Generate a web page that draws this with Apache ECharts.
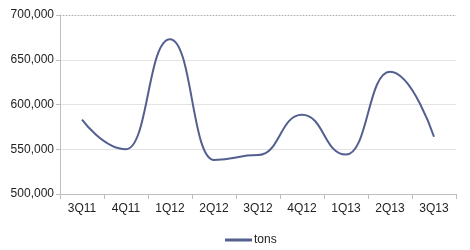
<!DOCTYPE html>
<html><head><meta charset="utf-8">
<script src="https://cdn.jsdelivr.net/npm/echarts@6/dist/echarts.min.js"></script>
<style>html,body{margin:0;padding:0;background:#fff}#c{width:470px;height:250px}</style>
</head><body><div id="c"></div>
<script>
var categories = ['3Q11','4Q11','1Q12','2Q12','3Q12','4Q12','1Q13','2Q13','3Q13'];
var tons = [583000, 550000, 673000, 538000, 543500, 588500, 544000, 636500, 564000];
var seriesName = 'tons';

var chart = echarts.init(document.getElementById('c'), null, {renderer:'canvas'});
chart.setOption({
  animation: false,
  textStyle: {fontFamily: 'Liberation Sans, Arial, sans-serif'},
  grid: {left: 60, right: 14, top: 15, bottom: 56, containLabel: false},
  legend: {
    data: [seriesName], left: 220, top: 229,
    icon: 'rect', itemWidth: 27, itemHeight: 3, itemGap: 2,
    textStyle: {fontSize: 12, color: '#222', fontFamily: 'Liberation Sans, Arial, sans-serif', padding: [0,0,0,-3]}
  },
  xAxis: {
    type: 'category', data: categories, boundaryGap: true,
    axisLine: {lineStyle: {color: '#bdbdbd'}},
    axisTick: {show: true, length: 5, lineStyle: {color: '#bdbdbd'}},
    axisLabel: {color: '#222', fontSize: 12, margin: 9}
  },
  yAxis: {
    type: 'value', min: 500000, max: 700000, interval: 50000,
    axisLine: {show: true, lineStyle: {color: '#bdbdbd'}},
    axisTick: {show: true, length: 4, lineStyle: {color: '#bdbdbd'}},
    axisLabel: {color: '#222', fontSize: 12, margin: 6,
      formatter: function(v){ return v.toLocaleString('en-US'); }},
    splitLine: {lineStyle: {color: '#e3e3e3', width: 1}}
  },
  series: [{
    name: seriesName, type: 'line', data: tons, smooth: 0.5, smoothMonotone: 'x',
    showSymbol: false, symbol: 'none',
    lineStyle: {color: '#53608f', width: 2},
    itemStyle: {color: '#53608f'},
    markLine: {
      silent: true, symbol: 'none', label: {show: false},
      lineStyle: {color: '#b0b0b0', type: [1,2], width: 1},
      data: [{yAxis: 700000}]
    }
  }]
});
</script></body></html>
